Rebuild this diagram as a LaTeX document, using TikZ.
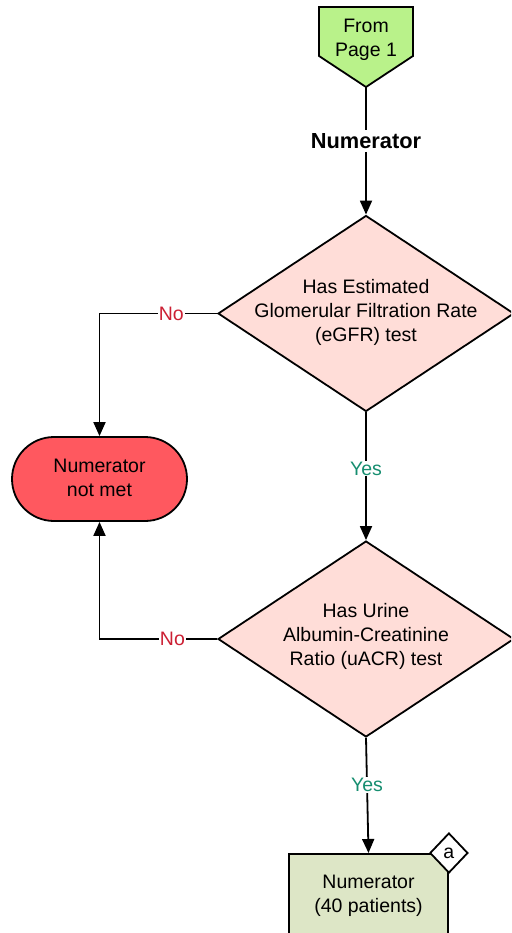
\documentclass[tikz,border=0pt]{standalone}
\usepackage{fontspec}
\setmainfont{Liberation Sans}
\usetikzlibrary{shapes.geometric,shapes.misc,arrows.meta}
\definecolor{pgreen}{RGB}{185,242,138}
\definecolor{dpink}{RGB}{255,221,216}
\definecolor{tred}{RGB}{255,88,95}
\definecolor{bgreen}{RGB}{221,230,198}
\definecolor{nored}{RGB}{204,32,52}
\definecolor{yesteal}{RGB}{22,142,112}
\tikzset{
  x=1pt,y=-1pt,
  shp/.style={draw=black,line width=1.8pt},
  txt/.style={align=center,font=\fontsize{19.5}{24}\selectfont,inner sep=0pt},
  dia/.style={shp,diamond,fill=dpink,minimum width=296pt,minimum height=196pt,inner sep=0pt},
  arr/.style={line width=1.8pt,-{Triangle[length=14pt,width=12pt]}},
  ln/.style={line width=1.8pt},
  nolbl/.style={fill=white,text=nored,inner sep=1pt,font=\fontsize{19.5}{24}\selectfont},
  yeslbl/.style={fill=white,text=yesteal,inner sep=1pt,font=\fontsize{19.5}{24}\selectfont},
}
\begin{document}
\begin{tikzpicture}
\useasboundingbox (0,0) rectangle (511,933);
\clip (0,0) rectangle (511,933);
% pentagon off-page connector
\draw[shp,fill=pgreen] (319,7) -- (413,7) -- (413,56) -- (366,87) -- (319,56) -- cycle;
\coordinate (p1b) at (366,87);
\node[txt] (p1) at (366,40) {From\\Page 1};
\node[font=\bfseries\fontsize{21.8}{24}\selectfont,inner sep=3pt] (num) at (366,141) {Numerator};
% diamonds
\node[dia] (d1) at (366,313.5) {};
\node[txt] (d1t) at (366,312) {Has Estimated\\Glomerular Filtration Rate\\(eGFR) test};
\node[dia] (d2) at (366,639) {};
\node[txt] (d2t) at (366,636) {Has Urine\\Albumin-Creatinine\\Ratio (uACR) test};
% terminal
\node[shp,rounded rectangle,fill=tred,minimum width=175pt,minimum height=84pt,inner sep=0pt] (t) at (99.5,479) {};
\node[txt] (tt) at (99.5,478) {Numerator\\not met};
% result box
\node[shp,rectangle,fill=bgreen,minimum width=159pt,minimum height=84pt,inner sep=0pt,anchor=north] (b) at (368.5,853) {};
\node[txt] (bt) at (368.5,896) {Numerator\\(40 patients)};
\node[shp,diamond,fill=white,minimum width=38pt,minimum height=40pt,inner sep=0pt,font=\fontsize{19.5}{24}\selectfont] (a) at (b.north east) {a};
% connectors
\draw[ln] (p1b) -- (num.north);
\draw[arr] (num.south) -- (d1.north);
\draw[arr] (d1.west) -- node[nolbl,pos=0.39]{No} (t.north |- d1.west) -- (t.north);
\draw[arr] (d1.south) -- node[yeslbl,pos=0.44]{Yes} (d2.north);
\draw[arr] (d2.west) -- node[nolbl,pos=0.38]{No} (t.south |- d2.west) -- (t.south);
\draw[arr] (d2.south) -- node[yeslbl,pos=0.41]{Yes} (b.north);
\end{tikzpicture}
\end{document}
